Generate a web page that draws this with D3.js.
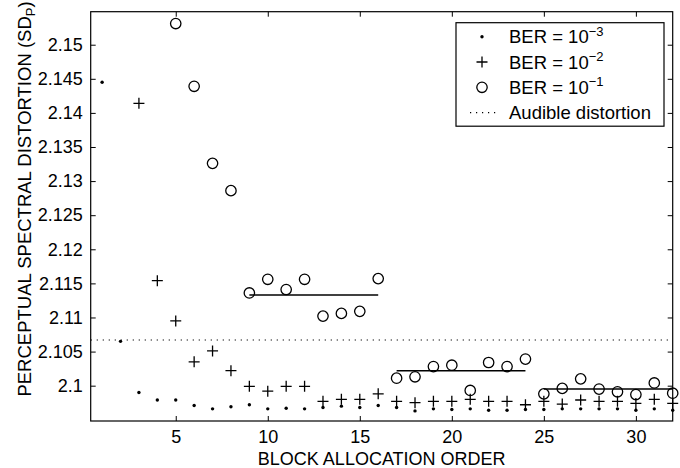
<!DOCTYPE html>
<html>
<head>
<meta charset="utf-8">
<script src="https://cdn.jsdelivr.net/npm/d3@7"></script>
<style>
  html, body { margin: 0; padding: 0; background: #fff; }
  svg { display: block; }
  text { font-family: "Liberation Sans", Arial, Helvetica, sans-serif; fill: #000; }
</style>
</head>
<body>
<svg id="chart" width="680" height="468"></svg>
<script>
// Block allocation order for each measurement
const order = [1,2,3,4,5,6,7,8,9,10,11,12,13,14,15,16,17,18,19,20,21,22,23,24,25,26,27,28,29,30,31,32];

// Perceptual spectral distortion, BER = 10^-3 (orders 1..32)
const ber3 = [2.1445, 2.1065, 2.0990, 2.0979, 2.0979, 2.0971, 2.0966, 2.0969, 2.0972, 2.0966,
              2.0967, 2.0966, 2.0968, 2.0970, 2.0968, 2.0971, 2.0968, 2.0963, 2.0966, 2.0965,
              2.0966, 2.0964, 2.0964, 2.0965, 2.0965, 2.0966, 2.0966, 2.0966, 2.0966, 2.0964,
              2.0966, 2.0964];

// BER = 10^-2 (orders 3..32; orders 1-2 lie above the plotted range)
const ber2Start = 3;
const ber2 = [2.1414, 2.1154, 2.1095, 2.1035, 2.1051, 2.1022, 2.0999, 2.0992, 2.0999, 2.0999,
              2.0977, 2.0980, 2.0980, 2.0988, 2.0977, 2.0975, 2.0977, 2.0977, 2.0980, 2.0977,
              2.0977, 2.0972, 2.0977, 2.0973, 2.0979, 2.0977, 2.0977, 2.0974, 2.0980, 2.0974];

// BER = 10^-1 (orders 5..32; orders 1-4 lie above the plotted range)
const ber1Start = 5;
const ber1 = [2.1531, 2.1439, 2.1326, 2.1286, 2.1136, 2.1156, 2.1141, 2.1156, 2.1102, 2.1106,
              2.1109, 2.1157, 2.1011, 2.1013, 2.1028, 2.1030, 2.0993, 2.1034, 2.1028, 2.1039,
              2.0988, 2.0996, 2.1010, 2.0995, 2.0991, 2.0987, 2.1004, 2.0989];

// Average levels of the BER = 10^-1 results over blocks of eight orders
const groupFrom  = [9, 17, 25];
const groupTo    = [16, 24, 32];
const groupLevel = [2.1133, 2.1022, 2.0995];

// Threshold of audible distortion
const audibleLevel = 2.1067;

// Axis ticks
const xTicks = [5, 10, 15, 20, 25, 30];
const yTicks = [2.1, 2.105, 2.11, 2.115, 2.12, 2.125, 2.13, 2.135, 2.14, 2.145, 2.15];
const yTickLabels = ["2.1", "2.105", "2.11", "2.115", "2.12", "2.125", "2.13", "2.135", "2.14", "2.145", "2.15"];

// Legend entries
const legendLabels = ["BER = 10", "BER = 10", "BER = 10", "Audible distortion"];
const legendExponents = ["\u22123", "\u22122", "\u22121", ""];

const svg = d3.select("#chart");
const TICK_FONT = 18;
const FONT = 18.5;

const plot = { left: 90.7, right: 672.7, top: 11.7, bottom: 421 };

const x = d3.scaleLinear().domain([0.38, 32]).range([plot.left, plot.right]);
const y = d3.scaleLinear().domain([2.09482, 2.15484]).range([plot.bottom, plot.top]);

// Axes: ticks point inward on all four sides
const xAxisB = d3.axisBottom(x).tickValues(xTicks).tickFormat(d3.format("d")).tickSize(-5).tickPadding(9);
const xAxisT = d3.axisTop(x).tickValues(xTicks).tickFormat("").tickSize(-5);
const yAxisL = d3.axisLeft(y).tickValues(yTicks).tickFormat((d, i) => yTickLabels[i]).tickSize(-5).tickPadding(8);
const yAxisR = d3.axisRight(y).tickValues(yTicks).tickFormat("").tickSize(-5);

function styleAxis(g) {
  g.select(".domain").remove();
  g.selectAll(".tick line").attr("stroke", "#000").attr("stroke-width", 1);
  g.selectAll(".tick text").attr("font-size", TICK_FONT).attr("fill", "#000")
    .attr("font-family", "'Liberation Sans', Arial, Helvetica, sans-serif");
}

svg.append("g").attr("transform", `translate(0,${plot.bottom})`).call(xAxisB).call(styleAxis);
svg.append("g").attr("transform", `translate(0,${plot.top})`).call(xAxisT).call(styleAxis);
svg.append("g").attr("transform", `translate(${plot.left},0)`).call(yAxisL).call(styleAxis);
svg.append("g").attr("transform", `translate(${plot.right},0)`).call(yAxisR).call(styleAxis);

// Frame
svg.append("rect")
  .attr("x", plot.left).attr("y", plot.top)
  .attr("width", plot.right - plot.left).attr("height", plot.bottom - plot.top)
  .attr("fill", "none").attr("stroke", "#000").attr("stroke-width", 1.2);

// Audible distortion threshold (dotted)
svg.append("line")
  .attr("x1", plot.left).attr("x2", plot.right)
  .attr("y1", y(audibleLevel)).attr("y2", y(audibleLevel))
  .attr("stroke", "#000").attr("stroke-width", 1.2)
  .attr("stroke-dasharray", "1.2,4.8");

// Block average lines
svg.append("g").selectAll("line").data(groupLevel).join("line")
  .attr("x1", (d, i) => x(groupFrom[i])).attr("x2", (d, i) => x(groupTo[i]))
  .attr("y1", d => y(d)).attr("y2", d => y(d))
  .attr("stroke", "#000").attr("stroke-width", 1.5);

// BER = 10^-1: open circles
svg.append("g").selectAll("circle").data(ber1).join("circle")
  .attr("cx", (d, i) => x(order[i + ber1Start - 1]))
  .attr("cy", d => y(d))
  .attr("r", 5.2)
  .attr("fill", "none").attr("stroke", "#000").attr("stroke-width", 1.3);

// BER = 10^-2: plus markers
const plusPath = (cx, cy, s) => `M${cx - s},${cy}H${cx + s}M${cx},${cy - s}V${cy + s}`;
svg.append("g").selectAll("path").data(ber2).join("path")
  .attr("d", (d, i) => plusPath(x(order[i + ber2Start - 1]), y(d), 5.5))
  .attr("stroke", "#000").attr("stroke-width", 1.3).attr("fill", "none");

// BER = 10^-3: dots
svg.append("g").selectAll("circle").data(ber3).join("circle")
  .attr("cx", (d, i) => x(order[i]))
  .attr("cy", d => y(d))
  .attr("r", 1.7)
  .attr("fill", "#000");

// Axis titles
svg.append("text")
  .attr("x", (plot.left + plot.right) / 2).attr("y", 464.5)
  .attr("text-anchor", "middle").attr("font-size", 18)
  .text("BLOCK ALLOCATION ORDER");

const yTitle = svg.append("text")
  .attr("transform", "translate(31,199) rotate(-90)")
  .attr("text-anchor", "middle").attr("font-size", FONT);
yTitle.append("tspan").text("PERCEPTUAL SPECTRAL DISTORTION (SD");
yTitle.append("tspan").attr("font-size", 13).attr("dy", 4).text("P");
yTitle.append("tspan").attr("dy", -4).text(")");

// Legend
const lg = { x: 456, y: 22.7, w: 208, h: 103.5, row: 25.3 };
svg.append("rect")
  .attr("x", lg.x).attr("y", lg.y).attr("width", lg.w).attr("height", lg.h)
  .attr("fill", "#fff").attr("stroke", "#000").attr("stroke-width", 1.2);

const rowY = i => lg.y + 14 + i * lg.row;
const symX = lg.x + 26;

svg.append("circle").attr("cx", symX).attr("cy", rowY(0)).attr("r", 1.7).attr("fill", "#000");
svg.append("path").attr("d", plusPath(symX, rowY(1), 5.5))
  .attr("stroke", "#000").attr("stroke-width", 1.3).attr("fill", "none");
svg.append("circle").attr("cx", symX).attr("cy", rowY(2)).attr("r", 5.2)
  .attr("fill", "none").attr("stroke", "#000").attr("stroke-width", 1.3);
svg.append("line")
  .attr("x1", symX - 12).attr("x2", symX + 14)
  .attr("y1", rowY(3)).attr("y2", rowY(3))
  .attr("stroke", "#000").attr("stroke-width", 1.2).attr("stroke-dasharray", "1.2,4.8");

legendLabels.forEach((label, i) => {
  const t = svg.append("text")
    .attr("x", lg.x + 53).attr("y", rowY(i) + 6.5)
    .attr("font-size", FONT);
  t.append("tspan").text(label);
  if (legendExponents[i]) {
    t.append("tspan").attr("font-size", 13).attr("dy", -7.5).text(legendExponents[i]);
  }
});
</script>
</body>
</html>
